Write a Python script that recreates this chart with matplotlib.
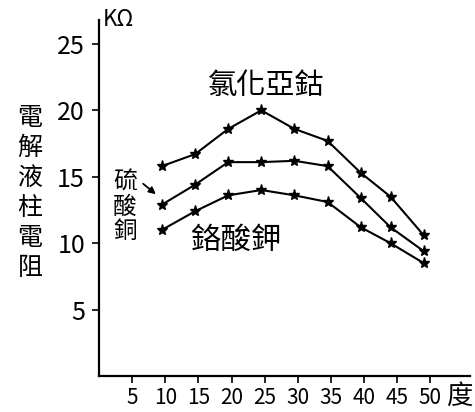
import matplotlib
matplotlib.use("Agg")
import matplotlib.pyplot as plt

plt.rcParams['font.family'] = ['Noto Sans CJK TC', 'DejaVu Sans']

# temperature (度) and resistance (KΩ)
temp = [9.5, 14.5, 19.5, 24.5, 29.5, 34.5, 39.5, 44, 49]
cobalt_chloride = [15.8, 16.7, 18.6, 20.0, 18.6, 17.7, 15.3, 13.5, 10.6]
copper_sulfate = [12.9, 14.4, 16.1, 16.1, 16.2, 15.8, 13.4, 11.2, 9.4]
potassium_chromate = [11.0, 12.4, 13.6, 14.0, 13.6, 13.1, 11.2, 10.0, 8.5]

x_ticks = [5, 10, 15, 20, 25, 30, 35, 40, 45, 50]
y_ticks = [5, 10, 15, 20, 25]

W, H = 475, 412
fig = plt.figure(figsize=(W / 100, H / 100), dpi=100)
ax = fig.add_axes([99 / W, 36 / H, (470 - 99) / W, (376 - 20) / H])


def px(x, y):
    # figure pixel position (from top-left) -> figure fraction
    return x / W, 1 - y / H


for series in (cobalt_chloride, copper_sulfate, potassium_chromate):
    ax.plot(temp, series, color="black", lw=1.5, marker="*", ms=8,
            mfc="black", mec="black")

ax.set_xlim(0, 56)
ax.set_ylim(0, 26.8)
ax.set_xticks(x_ticks)
ax.set_yticks(y_ticks)
ax.tick_params(axis="x", labelsize=15, length=5, width=1.2, pad=3)
ax.tick_params(axis="y", labelsize=18, length=5, width=1.2, pad=5)
for s in ("top", "right"):
    ax.spines[s].set_visible(False)
for s in ("left", "bottom"):
    ax.spines[s].set_linewidth(1.6)

# labels
fig.text(*px(30, 193), "\n".join("電解液柱電阻"), fontsize=18, ha="center",
         va="center", linespacing=1.2, fontweight="medium")
fig.text(*px(103, 20), "KΩ", fontsize=16, ha="left", va="center")
fig.text(*px(459, 396), "度", fontsize=19, ha="center", va="center")
fig.text(*px(266, 86), "氯化亞鈷", fontsize=21, ha="center", va="center",
         fontweight="medium")
fig.text(*px(236, 240), "鉻酸鉀", fontsize=22, ha="center", va="center",
         fontweight="medium")
fig.text(*px(125, 207), "\n".join("硫酸銅"), fontsize=17, ha="center",
         va="center", linespacing=1.1, fontweight="medium")
ax.annotate("", xy=px(158, 196), xycoords="figure fraction",
            xytext=px(141, 182), textcoords="figure fraction",
            arrowprops=dict(arrowstyle="-|>", color="black", lw=1.3))

fig.savefig("out.png", dpi=100)
